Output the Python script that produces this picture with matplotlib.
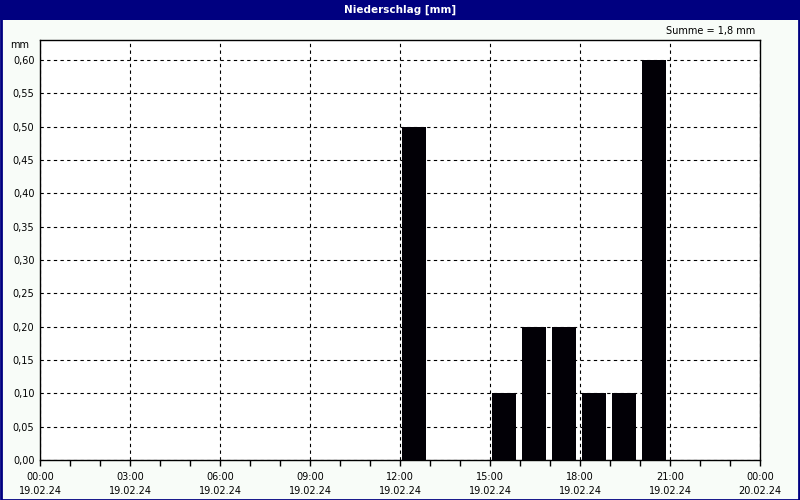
import matplotlib
matplotlib.use('Agg')
import matplotlib.pyplot as plt
import matplotlib.dates as mdates
from matplotlib.patches import Rectangle
from matplotlib.ticker import FuncFormatter, MultipleLocator
from datetime import datetime, timedelta

# hourly precipitation, start of each hour
bar_hours = [12, 15, 16, 17, 18, 19, 20]
bar_values = [0.50, 0.10, 0.20, 0.20, 0.10, 0.10, 0.60]
day_start = datetime(2024, 2, 19, 0, 0)
day_end = datetime(2024, 2, 20, 0, 0)
title_text = "Niederschlag [mm]"
sum_text = "Summe = 1,8 mm"

navy = "#000080"
bg = "#f8fcf8"

fig = plt.figure(figsize=(8, 5), dpi=100, facecolor=bg)
W, H = 800, 500

# title bar and outer frame
fig.patches.append(Rectangle((0, 1 - 20 / H), 1, 20 / H, transform=fig.transFigure,
                             facecolor=navy, edgecolor="none", zorder=0))
fig.patches.append(Rectangle((0.5 / W, 0.5 / H), 1 - 1.5 / W, 1 - 1.5 / H, transform=fig.transFigure,
                             facecolor="none", edgecolor=navy, linewidth=2, zorder=5))
fig.text(0.5, 1 - 10 / H, title_text, color="white", fontsize=7.5, fontweight="bold",
         ha="center", va="center")
fig.text(755 / W, 1 - 31 / H, sum_text, fontsize=7, ha="right", va="center")
fig.text(29 / W, 1 - 45 / H, "mm", fontsize=7, ha="right", va="center")

ax = fig.add_axes([40 / W, 1 - 460 / H, 720 / W, 420 / H])
ax.set_facecolor("white")

# bars sit just right of the hour line
x = [day_start + timedelta(hours=h + 0.06) for h in bar_hours]
ax.bar(x, bar_values, width=0.8 / 24, align="edge", color="#020006", zorder=3,
       linewidth=0)

ax.set_xlim(day_start, day_end)
ax.set_ylim(0, 0.63)

ax.yaxis.set_major_locator(MultipleLocator(0.05))
ax.yaxis.set_major_formatter(FuncFormatter(lambda v, p: f"{v:.2f}".replace(".", ",")))
ax.tick_params(axis="y", length=0, pad=4, labelsize=7)

ax.xaxis.set_major_locator(mdates.HourLocator(byhour=range(0, 24, 3)))
ax.xaxis.set_minor_locator(mdates.HourLocator())
ax.xaxis.set_major_formatter(mdates.DateFormatter("%H:%M\n%d.%m.%y"))
ax.tick_params(axis="x", which="major", length=4, width=1, pad=5, labelsize=7)
ax.tick_params(axis="x", which="minor", length=4, width=1)
fig.canvas.draw()
for lbl in ax.get_xticklabels():
    lbl.set_linespacing(1.45)

ax.grid(True, which="major", color="black", linestyle=(0, (3, 3)), linewidth=0.8, zorder=1)
for s in ax.spines.values():
    s.set_color("black")
    s.set_linewidth(1)

fig.savefig("out.png", dpi=100, facecolor=bg)
